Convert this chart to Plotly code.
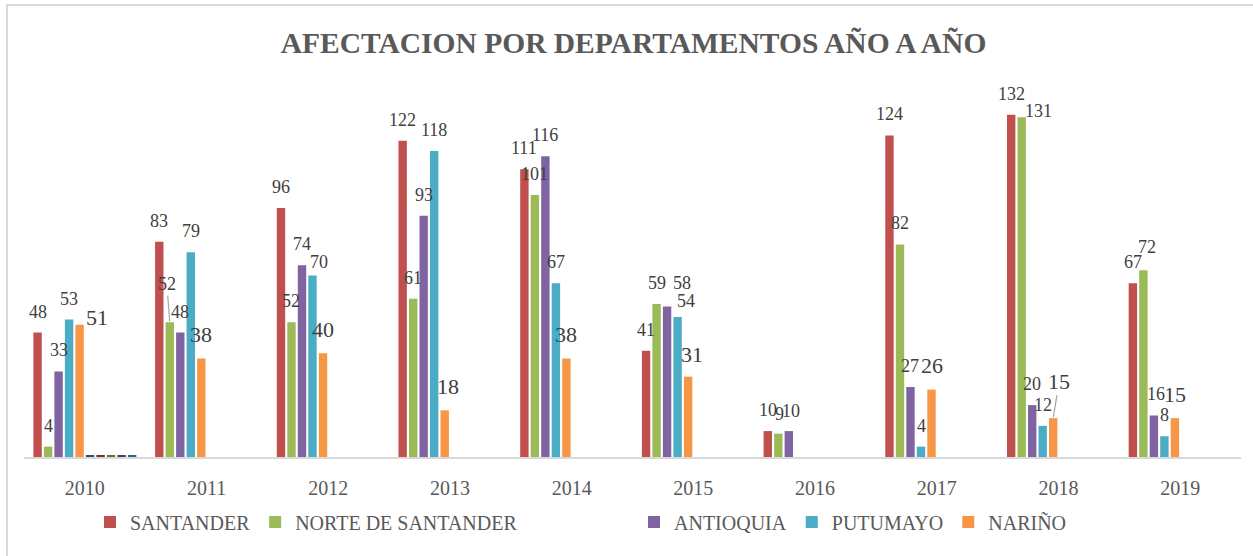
import plotly.graph_objects as go

YEARS = ["2010", "2011", "2012", "2013", "2014", "2015", "2016", "2017", "2018", "2019"]
SERIES = ["SANTANDER", "NORTE DE SANTANDER", "ANTIOQUIA", "PUTUMAYO", "NARIÑO"]
SANTANDER = [48, 83, 96, 122, 111, 41, 10, 124, 132, 67]
NORTE = [4, 52, 52, 61, 101, 59, 9, 82, 131, 72]
ANTIOQUIA = [33, 48, 74, 93, 116, 58, 10, 27, 20, 16]
PUTUMAYO = [53, 79, 70, 118, 67, 54, None, 4, 12, 8]
NARINO = [51, 38, 40, 18, 38, 31, None, 26, 15, 15]
# five extra (unlabelled) series that only appear as slivers in 2010
EXTRA_VALUES = [0.7, None, None, None, None, None, None, None, None, None]

VALUES = [SANTANDER, NORTE, ANTIOQUIA, PUTUMAYO, NARINO]
COLORS = ["#C0504D", "#9BBB59", "#8064A2", "#4BACC6", "#F79646"]
EXTRA_COLORS = ["#2C4D75", "#772C2A", "#5F7530", "#4D3B62", "#276A7C"]

W, H = 1253, 556
ML, MR, MT, MB = 24, 12, 94, 99
PW = W - ML - MR
PH = H - MT - MB
BARGAP = 0.137
NTR = 10
slot = (1 - BARGAP) / NTR

FONT = "Liberation Serif"
TXT = "#404040"

fig = go.Figure()
for i, (name, vals) in enumerate(zip(SERIES, VALUES)):
    fig.add_trace(go.Bar(
        x=list(range(len(YEARS))), y=vals, name=name,
        marker=dict(color=COLORS[i], line=dict(width=0)),
        legend="legend" if i < 2 else "legend2",
        hoverinfo="skip",
    ))
for j in range(5):
    fig.add_trace(go.Bar(
        x=list(range(len(YEARS))), y=EXTRA_VALUES, name="",
        marker=dict(color=EXTRA_COLORS[j], line=dict(width=0)),
        showlegend=False, hoverinfo="skip",
    ))

# label offsets in pixels: (dx, up); default placement above bar
NORMAL = (0, 21)
LARGE = (0, 24)
SPECIAL = {
    (1, 1): (-3, 38),
    (3, 2): (6, 14),
    (2, 5): (15, 24),
    (3, 5): (8, 16),
    (4, 0): (17, 7),
    (4, 3): (3, 24),
    (4, 5): (4, 22),
    (1, 6): (1, 20),
    (2, 6): (2, 20),
    (1, 8): (17, 6),
    (4, 8): (6, 37),
    (1, 9): (4, 23),
    (2, 9): (2, 22),
}
LEADERS = {(1, 1), (4, 8)}

annotations = []
for i, vals in enumerate(VALUES):
    for k, v in enumerate(vals):
        if v is None:
            continue
        xc = k + (i + 0.5 - NTR / 2) * slot
        large = (i == 4)
        dx, up = SPECIAL.get((i, k), LARGE if large else NORMAL)
        size = 22 if large else 18
        if (i, k) in LEADERS:
            annotations.append(dict(
                x=xc, y=v, xref="x", yref="y", text=str(v),
                showarrow=True, arrowhead=0, arrowwidth=1.2, arrowcolor="#A6A6A6",
                ax=dx, ay=-up, standoff=1,
                font=dict(family=FONT, size=size, color=TXT),
            ))
        else:
            annotations.append(dict(
                x=xc, y=v, xref="x", yref="y", text=str(v),
                showarrow=False, xanchor="center", yanchor="middle",
                xshift=dx, yshift=up,
                font=dict(family=FONT, size=size, color=TXT),
            ))

def px_x(p):
    return (p - ML) / PW

def px_y(p):
    return (H - MB - p) / PH

fig.update_layout(
    width=W, height=H,
    margin=dict(l=ML, r=MR, t=MT, b=MB),
    paper_bgcolor="white", plot_bgcolor="white",
    barmode="group", bargap=BARGAP, bargroupgap=0.2,
    title=dict(
        text="<b>AFECTACION POR DEPARTAMENTOS AÑO A AÑO</b>",
        x=0.5 + 7 / W, xanchor="center", xref="container",
        y=1 - 43 / H, yanchor="middle", yref="container",
        font=dict(family=FONT, size=29.5, color="#595959"),
    ),
    xaxis=dict(
        range=[-0.5, len(YEARS) - 0.5],
        tickmode="array", tickvals=list(range(len(YEARS))), ticktext=YEARS,
        showline=True, linecolor="#D9D9D9", linewidth=2,
        showgrid=False, zeroline=False, ticks="",
        tickfont=dict(family=FONT, size=20, color="#595959"),
        ticklabelstandoff=12,
    ),
    yaxis=dict(range=[0, 140], visible=False, showgrid=False, zeroline=False),
    legend=dict(
        orientation="h", x=px_x(90), xanchor="left", y=px_y(522), yanchor="middle",
        font=dict(family=FONT, size=20, color="#595959"),
        itemwidth=30, bgcolor="rgba(0,0,0,0)",
    ),
    legend2=dict(
        orientation="h", x=px_x(634), xanchor="left", y=px_y(522), yanchor="middle",
        font=dict(family=FONT, size=20, color="#595959"),
        itemwidth=30, bgcolor="rgba(0,0,0,0)",
    ),
    annotations=annotations,
    shapes=[dict(
        type="rect", xref="paper", yref="paper",
        x0=px_x(7), x1=px_x(1258), y0=px_y(560), y1=px_y(5),
        line=dict(color="#D9D9D9", width=2), fillcolor="rgba(0,0,0,0)", layer="below",
    )],
)

fig.write_html("out.html", config={"displayModeBar": False},
               post_script="document.body.style.margin='0px';")
